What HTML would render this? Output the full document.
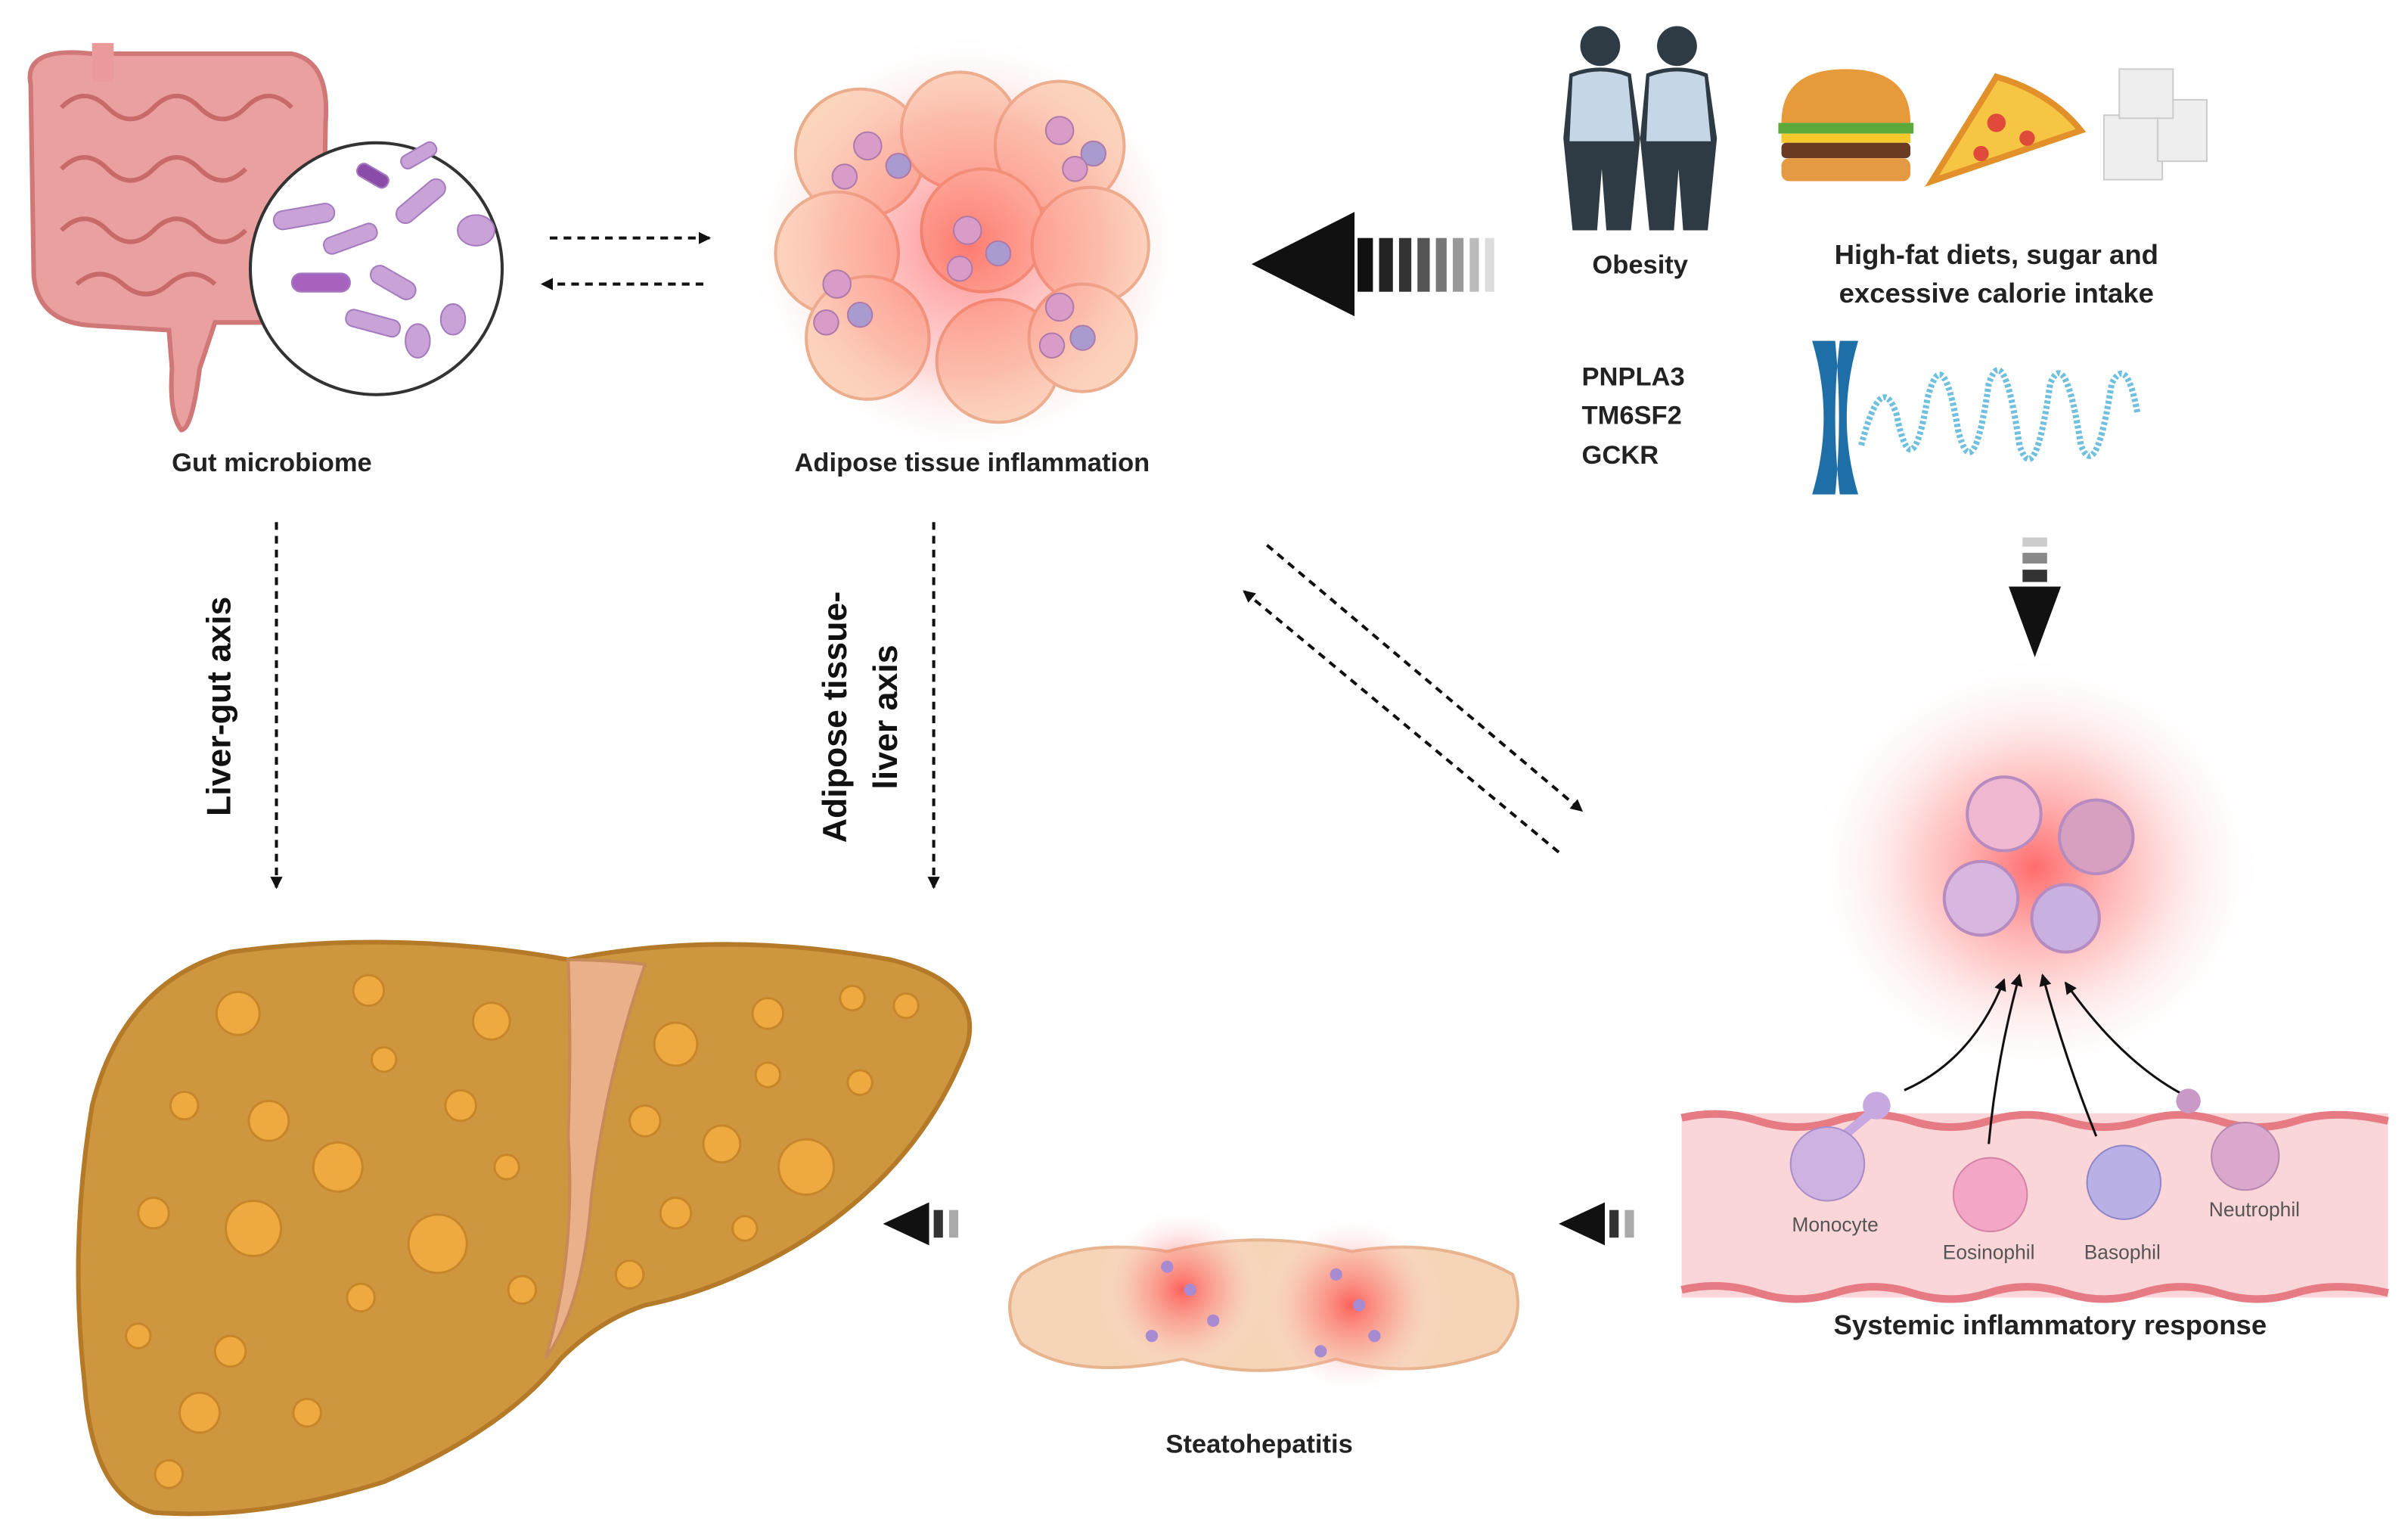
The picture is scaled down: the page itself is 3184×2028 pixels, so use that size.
<!DOCTYPE html>
<html><head><meta charset="utf-8"><style>
html,body{margin:0;padding:0;background:#fff;}
svg{display:block;}
text{font-family:"Liberation Sans",sans-serif;}
</style></head><body>
<svg width="3184" height="2028" viewBox="0 0 1568 999" preserveAspectRatio="none" xmlns="http://www.w3.org/2000/svg">
<defs>
<radialGradient id="glow"><stop offset="0" stop-color="#ff3b3b" stop-opacity="0.75"/><stop offset="0.5" stop-color="#ff7a7a" stop-opacity="0.35"/><stop offset="1" stop-color="#ffffff" stop-opacity="0"/></radialGradient>
<radialGradient id="glow2"><stop offset="0" stop-color="#ff4040" stop-opacity="0.6"/><stop offset="0.6" stop-color="#ff9090" stop-opacity="0.35"/><stop offset="1" stop-color="#fff" stop-opacity="0"/></radialGradient>
<marker id="ah" markerWidth="8" markerHeight="8" refX="7" refY="4" orient="auto" markerUnits="userSpaceOnUse"><path d="M0,0 L8,4 L0,8 z" fill="#111"/></marker>
</defs>

<!-- Intestine -->
<g>
<path d="M20,55 Q15,30 60,35 L190,35 Q215,40 212,80 L210,190 Q205,215 180,210 L140,210 L130,240 Q125,280 118,280 Q110,270 112,240 L110,215 L60,212 Q25,210 22,180 Z" fill="#eba0a0" stroke="#d07878" stroke-width="3"/>
<path d="M40,70 Q55,55 70,70 T100,70 T130,70 T160,70 T190,70 M40,110 Q55,95 70,110 T100,110 T130,110 T160,110 M40,150 Q55,135 70,150 T100,150 T130,150 T160,150 M50,185 Q65,172 80,185 T110,185 T140,185" fill="none" stroke="#c86a6a" stroke-width="3"/>
<rect x="60" y="28" width="14" height="25" fill="#eb9a9a"/>
<circle cx="245" cy="175" r="82" fill="#fff" stroke="#333" stroke-width="2"/>
<g fill="#c9a3d8" stroke="#a57bbf" stroke-width="1">
<rect x="178" y="135" width="40" height="12" rx="6" transform="rotate(-10 198 141)"/>
<rect x="210" y="150" width="36" height="11" rx="5" transform="rotate(-20 228 155)"/>
<rect x="255" y="125" width="38" height="12" rx="6" transform="rotate(-40 274 131)"/>
<rect x="190" y="178" width="38" height="12" rx="6" fill="#a862c0"/>
<rect x="240" y="178" width="32" height="12" rx="6" transform="rotate(30 256 184)"/>
<rect x="225" y="205" width="36" height="11" rx="5" transform="rotate(15 243 210)"/>
<rect x="232" y="110" width="22" height="9" rx="4" fill="#8a4ca8" transform="rotate(30 243 114)"/>
<ellipse cx="310" cy="150" rx="12" ry="10"/><ellipse cx="295" cy="208" rx="8" ry="10"/><ellipse cx="272" cy="222" rx="8" ry="11"/>
<rect x="260" y="97" width="25" height="9" rx="4" transform="rotate(-30 272 101)"/>
</g>
<text x="177" y="307" font-size="17" font-weight="bold" text-anchor="middle" fill="#222">Gut microbiome</text>
</g>

<line x1="358" y1="155" x2="462" y2="155" stroke="#111" stroke-width="2" stroke-dasharray="5,4" marker-end="url(#ah)"/>
<line x1="458" y1="185" x2="353" y2="185" stroke="#111" stroke-width="2" stroke-dasharray="5,4" marker-end="url(#ah)"/>

<!-- Adipose -->
<g>
<g fill="#fbd2b8" stroke="#e8a883" stroke-width="2">
<circle cx="560" cy="100" r="42"/><circle cx="625" cy="85" r="38"/><circle cx="690" cy="95" r="42"/>
<circle cx="545" cy="165" r="40"/><circle cx="640" cy="150" r="40"/><circle cx="710" cy="160" r="38"/>
<circle cx="565" cy="220" r="40"/><circle cx="650" cy="235" r="40"/><circle cx="705" cy="220" r="35"/>
</g>
<ellipse cx="630" cy="160" rx="145" ry="140" fill="url(#glow2)"/>
<g fill="#d99cc8" stroke="#b07aa8" stroke-width="1">
<circle cx="565" cy="95" r="9"/><circle cx="585" cy="108" r="8" fill="#a99ad0"/><circle cx="550" cy="115" r="8"/>
<circle cx="690" cy="85" r="9"/><circle cx="712" cy="100" r="8" fill="#a99ad0"/><circle cx="700" cy="110" r="8"/>
<circle cx="630" cy="150" r="9"/><circle cx="650" cy="165" r="8" fill="#a99ad0"/><circle cx="625" cy="175" r="8"/>
<circle cx="545" cy="185" r="9"/><circle cx="560" cy="205" r="8" fill="#a99ad0"/><circle cx="538" cy="210" r="8"/>
<circle cx="690" cy="200" r="9"/><circle cx="705" cy="220" r="8" fill="#a99ad0"/><circle cx="685" cy="225" r="8"/>
</g>
<text x="633" y="307" font-size="17" font-weight="bold" text-anchor="middle" fill="#222">Adipose tissue inflammation</text>
</g>

<path d="M815,172 L882,138 L882,206 Z" fill="#111"/>
<g>
<rect x="884" y="155" width="10" height="35" fill="#111"/><rect x="898" y="155" width="9" height="35" fill="#222"/>
<rect x="911" y="155" width="8" height="35" fill="#333"/><rect x="923" y="155" width="8" height="35" fill="#555"/>
<rect x="935" y="155" width="7" height="35" fill="#777"/><rect x="946" y="155" width="7" height="35" fill="#999"/>
<rect x="957" y="155" width="6" height="35" fill="#bbb"/><rect x="967" y="155" width="6" height="35" fill="#ddd"/>
</g>

<g fill="#2e3a44">
<circle cx="1042" cy="30" r="13"/><path d="M1022,48 Q1042,40 1062,48 L1068,90 L1062,150 L1046,150 L1043,110 L1040,150 L1024,150 L1018,90 Z"/>
<circle cx="1092" cy="30" r="13"/><path d="M1072,48 Q1092,40 1112,48 L1118,90 L1112,150 L1096,150 L1093,110 L1090,150 L1074,150 L1068,90 Z"/>
</g>
<g fill="#c5d6e6"><path d="M1024,50 Q1042,43 1060,50 L1064,92 L1022,92 Z"/><path d="M1074,50 Q1092,43 1110,50 L1114,92 L1072,92 Z"/></g>
<text x="1068" y="178" font-size="17" font-weight="bold" text-anchor="middle" fill="#222">Obesity</text>

<path d="M1160,80 Q1160,45 1202,45 Q1244,45 1244,80 Z" fill="#e79a3a"/>
<rect x="1158" y="80" width="88" height="7" fill="#5ca83a"/>
<rect x="1160" y="87" width="84" height="6" fill="#f5c92b"/>
<rect x="1160" y="93" width="84" height="10" rx="3" fill="#6b3a22"/>
<rect x="1160" y="103" width="84" height="15" rx="5" fill="#e39a42"/>
<path d="M1258,118 L1300,50 Q1335,60 1355,85 Z" fill="#f6c544" stroke="#e2902a" stroke-width="4"/>
<circle cx="1300" cy="80" r="6" fill="#e04a3a"/><circle cx="1320" cy="90" r="5" fill="#e04a3a"/><circle cx="1290" cy="100" r="5" fill="#e04a3a"/>
<g fill="#eeeeee" stroke="#ccc"><rect x="1370" y="75" width="38" height="42"/><rect x="1405" y="65" width="32" height="40"/><rect x="1380" y="45" width="35" height="32"/></g>
<text x="1300" y="172" font-size="18" font-weight="bold" text-anchor="middle" fill="#222">High-fat diets, sugar and</text>
<text x="1300" y="197" font-size="18" font-weight="bold" text-anchor="middle" fill="#222">excessive calorie intake</text>

<text x="1030" y="251" font-size="17" font-weight="bold" fill="#222">PNPLA3</text>
<text x="1030" y="276" font-size="17" font-weight="bold" fill="#222">TM6SF2</text>
<text x="1030" y="302" font-size="17" font-weight="bold" fill="#222">GCKR</text>

<path d="M1180,222 Q1195,272 1180,322 L1195,322 Q1200,272 1195,222 Z M1210,222 Q1195,272 1210,322 L1198,322 Q1192,272 1198,222 Z" fill="#1e6fa8"/>
<path d="M1212,290 Q1225,240 1235,270 Q1245,320 1255,260 Q1265,220 1275,280 Q1285,320 1295,250 Q1305,220 1315,290 Q1325,320 1335,250 Q1345,225 1355,290 Q1365,315 1375,250 Q1385,230 1392,270" fill="none" stroke="#6ec0de" stroke-width="4" stroke-dasharray="2,1.5"/>

<rect x="1317" y="350" width="16" height="6" fill="#ccc"/><rect x="1317" y="360" width="16" height="7" fill="#888"/><rect x="1317" y="371" width="16" height="8" fill="#333"/>
<path d="M1308,382 L1342,382 L1325,428 Z" fill="#111"/>

<ellipse cx="1325" cy="565" rx="150" ry="140" fill="url(#glow)"/>
<g stroke="#b78bc0" stroke-width="2">
<circle cx="1305" cy="530" r="24" fill="#f0b8d0"/><circle cx="1365" cy="545" r="24" fill="#d8a0c0"/>
<circle cx="1290" cy="585" r="24" fill="#d7b6e0"/><circle cx="1345" cy="598" r="22" fill="#c8b0e0"/>
</g>
<rect x="1095" y="725" width="460" height="120" fill="#fbd6d8"/>
<path d="M1095,728 Q1120,722 1145,730 T1195,730 T1245,730 T1295,730 T1345,730 T1395,730 T1445,730 T1495,730 T1555,730" fill="none" stroke="#e77b84" stroke-width="5"/>
<path d="M1095,840 Q1120,834 1145,842 T1195,842 T1245,842 T1295,842 T1345,842 T1395,842 T1445,842 T1495,842 T1555,842" fill="none" stroke="#e77b84" stroke-width="5"/>
<g stroke="#111" stroke-width="1.5" fill="none" marker-end="url(#ah)">
<path d="M1240,710 Q1285,690 1305,638"/><path d="M1295,745 Q1300,690 1315,635"/><path d="M1365,740 Q1345,690 1330,635"/><path d="M1420,712 Q1380,690 1345,640"/>
</g>
<circle cx="1222" cy="720" r="9" fill="#c8a8e0"/><path d="M1218,725 L1200,740" stroke="#c8a8e0" stroke-width="6"/>
<circle cx="1190" cy="758" r="24" fill="#cdb2e2" stroke="#a98cc8"/>
<circle cx="1296" cy="778" r="24" fill="#f3a6c6" stroke="#d483a8"/>
<circle cx="1383" cy="770" r="24" fill="#b9b0e6" stroke="#8e86c8"/>
<circle cx="1425" cy="717" r="8" fill="#c99ac8"/><circle cx="1462" cy="753" r="22" fill="#d9a8cc" stroke="#b887b0"/>
<text x="1195" y="802" font-size="13" text-anchor="middle" fill="#555">Monocyte</text>
<text x="1295" y="820" font-size="13" text-anchor="middle" fill="#555">Eosinophil</text>
<text x="1382" y="820" font-size="13" text-anchor="middle" fill="#555">Basophil</text>
<text x="1468" y="792" font-size="13" text-anchor="middle" fill="#555">Neutrophil</text>
<text x="1335" y="869" font-size="18" font-weight="bold" text-anchor="middle" fill="#222">Systemic inflammatory response</text>

<line x1="825" y1="355" x2="1030" y2="528" stroke="#111" stroke-width="2" stroke-dasharray="5,4" marker-end="url(#ah)"/>
<line x1="1015" y1="555" x2="810" y2="385" stroke="#111" stroke-width="2" stroke-dasharray="5,4" marker-end="url(#ah)"/>

<line x1="180" y1="340" x2="180" y2="578" stroke="#111" stroke-width="2" stroke-dasharray="5,4" marker-end="url(#ah)"/>
<line x1="608" y1="340" x2="608" y2="578" stroke="#111" stroke-width="2" stroke-dasharray="5,4" marker-end="url(#ah)"/>
<text transform="translate(150,460) rotate(-90)" font-size="22" font-weight="bold" text-anchor="middle" fill="#111">Liver-gut axis</text>
<text transform="translate(551,467) rotate(-90)" font-size="22" font-weight="bold" text-anchor="middle" fill="#111">Adipose tissue-</text>
<text transform="translate(584,467) rotate(-90)" font-size="22" font-weight="bold" text-anchor="middle" fill="#111">liver axis</text>

<path d="M60,720 Q80,640 150,620 Q260,605 370,625 Q470,605 580,625 Q640,640 630,680 Q600,760 520,810 Q470,840 420,850 Q390,860 365,885 Q330,930 250,965 Q170,990 100,985 Q60,975 55,900 Q45,810 60,720 Z" fill="#cf9640" stroke="#b57a28" stroke-width="3"/>
<path d="M370,625 Q395,625 420,628 Q395,700 385,780 Q380,850 355,885 Q375,820 370,740 Q372,680 370,625 Z" fill="#eab08a" stroke="#c98a5a" stroke-width="2"/>
<g fill="#eeaa40" stroke="#c8862a" stroke-width="1.5">
<circle cx="155" cy="660" r="14"/><circle cx="240" cy="645" r="10"/><circle cx="320" cy="665" r="12"/><circle cx="120" cy="720" r="9"/>
<circle cx="175" cy="730" r="13"/><circle cx="250" cy="690" r="8"/><circle cx="300" cy="720" r="10"/><circle cx="220" cy="760" r="16"/>
<circle cx="165" cy="800" r="18"/><circle cx="285" cy="810" r="19"/><circle cx="100" cy="790" r="10"/><circle cx="235" cy="845" r="9"/>
<circle cx="90" cy="870" r="8"/><circle cx="150" cy="880" r="10"/><circle cx="200" cy="920" r="9"/><circle cx="130" cy="920" r="13"/>
<circle cx="330" cy="760" r="8"/><circle cx="340" cy="840" r="9"/><circle cx="110" cy="960" r="9"/>
<circle cx="440" cy="680" r="14"/><circle cx="500" cy="660" r="10"/><circle cx="555" cy="650" r="8"/><circle cx="590" cy="655" r="8"/>
<circle cx="420" cy="730" r="10"/><circle cx="470" cy="745" r="12"/><circle cx="525" cy="760" r="18"/><circle cx="560" cy="705" r="8"/>
<circle cx="440" cy="790" r="10"/><circle cx="485" cy="800" r="8"/><circle cx="410" cy="830" r="9"/><circle cx="500" cy="700" r="8"/>
</g>

<path d="M1015,797 L1045,783 L1045,811 Z" fill="#111"/><rect x="1048" y="788" width="6" height="18" fill="#333"/><rect x="1058" y="788" width="6" height="18" fill="#aaa"/>
<path d="M575,797 L605,783 L605,811 Z" fill="#111"/><rect x="608" y="788" width="6" height="18" fill="#333"/><rect x="618" y="788" width="6" height="18" fill="#aaa"/>

<path d="M665,830 Q700,805 760,815 Q820,800 880,815 Q940,805 985,830 Q995,860 975,880 Q920,900 870,885 Q820,900 770,885 Q700,900 665,875 Q650,850 665,830 Z" fill="#f6d4b8" stroke="#e8b48e" stroke-width="2"/>
<ellipse cx="770" cy="840" rx="55" ry="55" fill="url(#glow)"/>
<ellipse cx="880" cy="850" rx="60" ry="60" fill="url(#glow)"/>
<g fill="#a88ad0"><circle cx="760" cy="825" r="4"/><circle cx="775" cy="840" r="4"/><circle cx="790" cy="860" r="4"/><circle cx="870" cy="830" r="4"/><circle cx="885" cy="850" r="4"/><circle cx="895" cy="870" r="4"/><circle cx="860" cy="880" r="4"/><circle cx="750" cy="870" r="4"/></g>
<text x="820" y="946" font-size="17" font-weight="bold" text-anchor="middle" fill="#222">Steatohepatitis</text>
</svg>
</body></html>
